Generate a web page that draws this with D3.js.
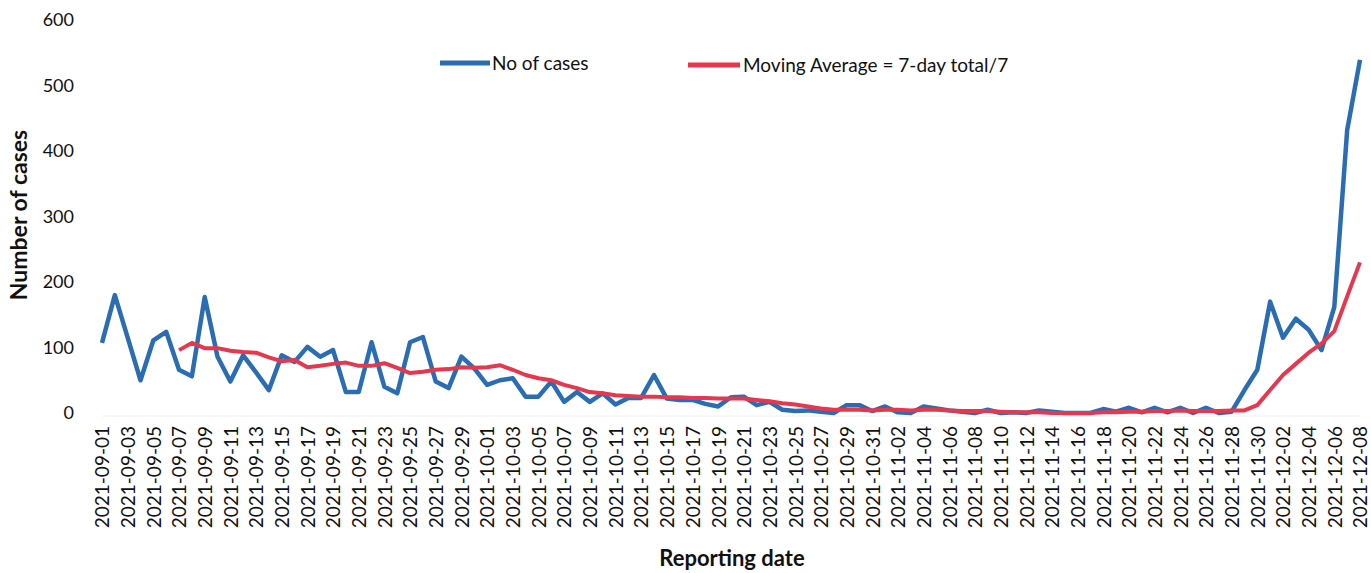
<!DOCTYPE html>
<html>
  <head>
    <meta charset="utf-8">
    <title>Cases</title>
    <script src="https://d3js.org/d3.v7.min.js"></script>
    <style>
    body { margin: 0; background: #fff; }
    text { font-family: Lato, "Open Sans", sans-serif; fill: #111; }
    .axis path, .axis line { stroke: none; }
    </style>
  </head>
  <body>
    <script>
      // daily counts, starting 2021-09-01
      const startDate = "2021-09-01";
      const cases = [
        107, 180, 115, 50, 111, 124, 66, 56, 177, 86,
        48, 88, 62, 35, 88, 78, 101, 86, 96, 32,
        32, 108, 40, 30, 108, 116, 48, 38, 86, 68,
        43, 50, 53, 25, 25, 48, 17, 32, 17, 30,
        13, 23, 23, 58, 22, 20, 20, 14, 10, 24,
        25, 12, 17, 5, 3, 4, 2, 0, 12, 12,
        3, 10, 1, 0, 10, 7, 4, 2, 0, 5,
        0, 1, 0, 4, 2, 0, 0, 0, 6, 2,
        8, 1, 8, 1, 8, 0, 8, 0, 2, 35,
        66, 170, 115, 144, 127, 96, 162, 432, 539
      ];
      // moving average starts on day 7 (2021-09-07)
      const avgStart = 6;
      const movingAvg = [
        96, 107, 99, 99, 95, 93, 92, 85, 79, 81,
        70, 72, 75, 77, 72, 72, 76, 69, 61, 63,
        66, 67, 70, 69, 70, 73, 66, 58, 53, 50,
        43, 38, 32, 30, 27, 26, 25, 25, 24, 24,
        23, 23, 22, 22, 22, 20, 18, 15, 13, 10,
        7, 5, 5, 5, 4, 5, 5, 4, 5, 5,
        4, 3, 3, 3, 2, 1, 1, 1, 0, 0,
        0, 0, 1, 1, 2, 2, 3, 3, 4, 3,
        3, 3, 4, 4, 12, 35, 58, 75, 92, 106,
        125, 178, 230
      ];
      const yTicks = [0, 100, 200, 300, 400, 500, 600];

      const width = 1371, height = 573;
      const parse = d3.utcParse("%Y-%m-%d");
      const fmt = d3.utcFormat("%Y-%m-%d");
      const day0 = parse(startDate);
      const dateOf = i => d3.utcDay.offset(day0, i);

      const svg = d3.select("body").append("svg")
          .attr("width", width)
          .attr("height", height);

      const x = d3.scaleUtc()
          .domain([dateOf(0), dateOf(cases.length - 1)])
          .range([102, 1360]);

      const y = d3.scaleLinear()
          .domain([0, 600])
          .range([413, 20]);

      // faint baseline
      svg.append("line")
          .attr("x1", x.range()[0]).attr("x2", x.range()[1])
          .attr("y1", y(0) + 3).attr("y2", y(0) + 3)
          .attr("stroke", "#f0f0f0")
          .attr("stroke-width", 1);

      // x axis - every second day
      const xTickVals = d3.range(0, cases.length, 2).map(dateOf);
      const xAxis = d3.axisBottom(x)
          .tickValues(xTickVals)
          .tickFormat(fmt)
          .tickSize(0);

      svg.append("g")
          .attr("class", "axis")
          .attr("transform", "translate(0," + 426 + ")")
          .call(xAxis)
          .selectAll("text")
            .style("font-size", "19px")
            .attr("text-anchor", "end")
            .attr("transform", "rotate(-90)")
            .attr("x", 0)
            .attr("y", 0)
            .attr("dx", "0")
            .attr("dy", "0.36em");

      // y axis
      const yAxis = d3.axisLeft(y)
          .tickValues(yTicks)
          .tickSize(0)
          .tickPadding(0);

      svg.append("g")
          .attr("class", "axis")
          .attr("transform", "translate(" + 74 + ",0)")
          .call(yAxis)
          .selectAll("text")
            .style("font-size", "18px");

      // lines
      const caseLine = d3.line()
          .x((d, i) => x(dateOf(i)))
          .y(d => y(d));

      const avgLine = d3.line()
          .x((d, i) => x(dateOf(i + avgStart)))
          .y(d => y(d));

      svg.append("path")
          .datum(cases)
          .attr("fill", "none")
          .attr("stroke", "#2a6db3")
          .attr("stroke-width", 4.5)
          .attr("stroke-linejoin", "round")
          .attr("d", caseLine);

      svg.append("path")
          .datum(movingAvg)
          .attr("fill", "none")
          .attr("stroke", "#e5384f")
          .attr("stroke-width", 4)
          .attr("stroke-linejoin", "round")
          .attr("d", avgLine);

      // legend
      const legend = svg.append("g");
      legend.append("line")
          .attr("x1", 440).attr("x2", 490)
          .attr("y1", 63).attr("y2", 63)
          .attr("stroke", "#2a6db3").attr("stroke-width", 5);
      legend.append("text")
          .attr("x", 492).attr("y", 70)
          .style("font-size", "19px")
          .text("No of cases");
      legend.append("line")
          .attr("x1", 688).attr("x2", 740)
          .attr("y1", 65).attr("y2", 65)
          .attr("stroke", "#e5384f").attr("stroke-width", 5);
      legend.append("text")
          .attr("x", 743).attr("y", 72)
          .style("font-size", "19px")
          .text("Moving Average = 7-day total/7");

      // axis titles
      svg.append("text")
          .attr("transform", "translate(27,215) rotate(-90)")
          .attr("text-anchor", "middle")
          .style("font-size", "23px")
          .style("font-weight", "bold")
          .text("Number of cases");

      svg.append("text")
          .attr("x", 732).attr("y", 566)
          .attr("text-anchor", "middle")
          .style("font-size", "22px")
          .style("font-weight", "bold")
          .text("Reporting date");
    </script>
  </body>
</html>
